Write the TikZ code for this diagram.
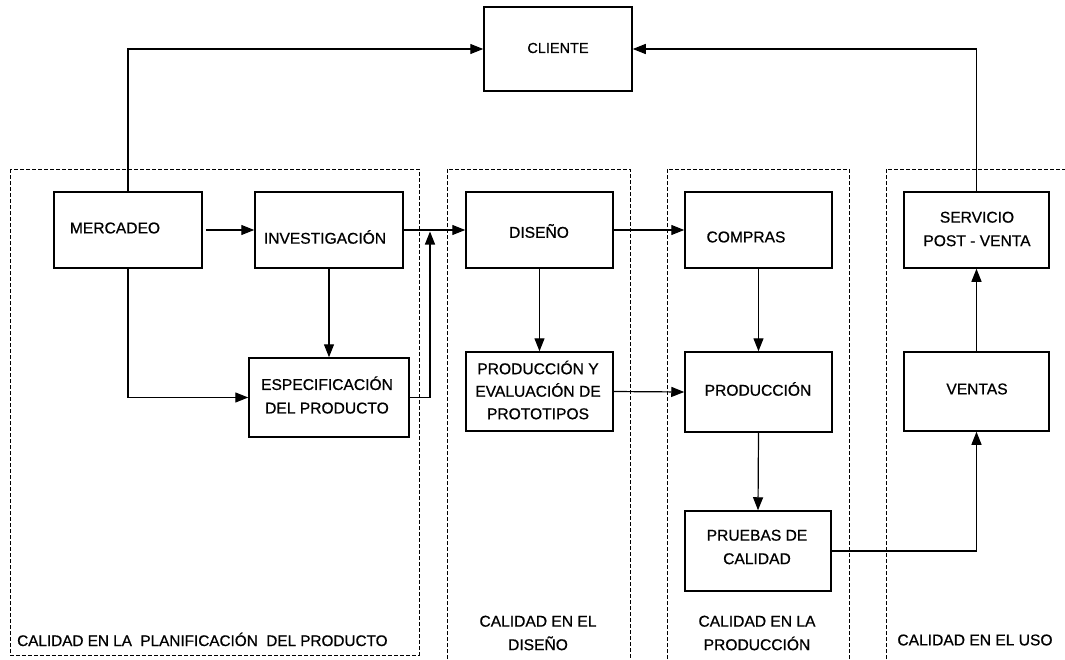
\documentclass[tikz,border=0pt]{standalone}
\usepackage{fontspec}
\setmainfont{Liberation Sans}[FakeBold=0.7]
\usetikzlibrary{arrows.meta}
\begin{document}
\begin{tikzpicture}[x=1pt,y=-1pt,
  box/.style={draw, line width=1.5pt, rectangle, inner sep=0pt},
  txt/.style={font=\fontsize{15.6}{23.5}\selectfont, align=center, inner sep=0pt},
  arr/.style={line width=1.2pt, -{Triangle[length=13pt,width=10pt]}},
  zone/.style={line width=1pt, dash pattern=on 4pt off 2pt}]
\useasboundingbox (0,0) rectangle (1065,659);
\fill[white] (0,0) rectangle (1065,659);

% quality zones
\draw[zone] (10,169) rectangle (419,655);
\draw[zone] (447,659) -- (447,169) -- (630,169) -- (630,659);
\draw[zone] (667,659) -- (667,169) -- (849,169) -- (849,659);
\draw[zone] (886,659) -- (886,169) -- (1065,169);

% zone captions
\node[txt, font=\fontsize{15.3}{23.5}\selectfont, anchor=base west] (zp) at (17,646) {CALIDAD EN LA\ \ PLANIFICACIÓN\ \ DEL PRODUCTO};
\node[txt] (zd) at (538,633) {CALIDAD EN EL\\DISEÑO};
\node[txt] (zpr) at (757,633) {CALIDAD EN LA\\PRODUCCIÓN};
\node[txt] (zu) at (975,640) {CALIDAD EN EL USO};

% process boxes
\node[box, minimum width=148, minimum height=84] (cli) at (558,49) {};
\node[txt, font=\fontsize{14.5}{18}\selectfont] (cliT) at (558,48) {CLIENTE};

\node[box, minimum width=148, minimum height=76] (merc) at (128,230) {};
\node[txt] (mercT) at (115,228) {MERCADEO};

\node[box, minimum width=148, minimum height=76] (inv) at (329,230) {};
\node[txt] (invT) at (325,237) {INVESTIGACIÓN};

\node[box, minimum width=160, minimum height=79] (esp) at (329,397.5) {};
\node[txt] (espT) at (327,395) {ESPECIFICACIÓN\\DEL PRODUCTO};

\node[box, minimum width=147, minimum height=76] (dis) at (539.5,230) {};
\node[txt] (disT) at (539,231) {DISEÑO};

\node[box, minimum width=147, minimum height=79] (proto) at (539.5,391.5) {};
\node[txt, font=\fontsize{15.6}{22.5}\selectfont] (protoT) at (538,390) {PRODUCCIÓN Y\\EVALUACIÓN DE\\PROTOTIPOS};

\node[box, minimum width=147, minimum height=76] (comp) at (758.5,230) {};
\node[txt] (compT) at (746,237) {COMPRAS};

\node[box, minimum width=147, minimum height=80] (prod) at (758.5,392) {};
\node[txt] (prodT) at (758,389) {PRODUCCIÓN};

\node[box, minimum width=146, minimum height=80] (prue) at (758,551) {};
\node[txt] (prueT) at (757,547) {PRUEBAS DE\\CALIDAD};

\node[box, minimum width=145, minimum height=76] (serv) at (976.5,230) {};
\node[txt] (servT) at (977,229) {SERVICIO\\POST - VENTA};

\node[box, minimum width=145, minimum height=79] (vent) at (976.5,391.5) {};
\node[txt] (ventT) at (977,389) {VENTAS};

% connectors
\draw[arr] (merc.north) |- (cli.west);
\draw[arr] (serv.north) |- (cli.east);
\draw[arr] ([xshift=3pt]merc.east) -- (inv.west);
\draw[arr] (merc.south) |- (esp.west);
\draw[arr] (inv.south) -- (esp.north);
\coordinate (join) at (430,230);
\draw[arr, shorten >=1.5pt] (esp.east) -| (join);
\draw[arr] (inv.east) -- (dis.west);
\draw[arr] (dis.south) -- (proto.north);
\draw[arr] (dis.east) -- (comp.west);
\draw[arr] (proto.east) -- (prod.west);
\draw[arr] (comp.south) -- (prod.north);
\draw[arr] (prod.south) -- (prue.north);
\draw[arr] (prue.east) -| (vent.south);
\draw[arr] (vent.north) -- (serv.south);
\end{tikzpicture}
\end{document}
